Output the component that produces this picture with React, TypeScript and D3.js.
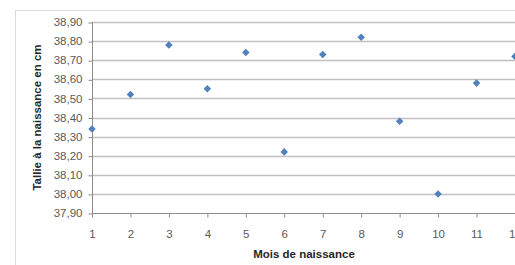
import React, { useEffect, useRef } from "react";
import * as d3 from "d3";

const months = [1, 2, 3, 4, 5, 6, 7, 8, 9, 10, 11, 12];
const heights = [38.34, 38.52, 38.78, 38.55, 38.74, 38.22, 38.73, 38.82, 38.38, 38.0, 38.58, 38.72];
const yTicks = [37.9, 38.0, 38.1, 38.2, 38.3, 38.4, 38.5, 38.6, 38.7, 38.8, 38.9];
const xTitle = "Mois de naissance";
const yTitle = "Tallie à la naissance en cm";

const App = () => {
  const ref = useRef<SVGSVGElement>(null);
  const width = 515;
  const height = 265;

  useEffect(() => {
    const svg = d3.select(ref.current);
    svg.selectAll("*").remove();

    const x = d3.scaleLinear().domain([1, 12]).range([92, 515]);
    const y = d3.scaleLinear().domain([37.9, 38.9]).range([213, 22]);
    const fmt = (v: number) => v.toFixed(2).replace(".", ",");

    // chart border
    svg
      .append("rect")
      .attr("x", 15.5)
      .attr("y", 10.5)
      .attr("width", 600)
      .attr("height", 300)
      .attr("fill", "white")
      .attr("stroke", "#d9d9d9");

    // gridlines
    svg
      .append("g")
      .selectAll("line")
      .data(yTicks.slice(1))
      .join("line")
      .attr("x1", x(1))
      .attr("x2", width)
      .attr("y1", d => Math.round(y(d)) + 0.5)
      .attr("y2", d => Math.round(y(d)) + 0.5)
      .attr("stroke", "#c0c0c0")
      .attr("stroke-width", 1.3);

    // y axis
    const yAxis = d3
      .axisLeft(y)
      .tickValues(yTicks)
      .tickSize(4)
      .tickPadding(6)
      .tickFormat(d => fmt(+d));
    const gy = svg
      .append("g")
      .attr("transform", `translate(${x(1) + 0.5},0)`)
      .call(yAxis);
    gy.select(".domain").attr("stroke", "#8c8c8c").attr("d", `M0,${y(38.9)}V${y(37.9) + 0.5}`);
    gy.selectAll(".tick line").attr("stroke", "#8c8c8c");
    gy.selectAll(".tick line").attr("transform", "translate(0,0.5)");
    gy.selectAll("text")
      .attr("fill", "#595959")
      .attr("font-size", 11.5)
      .attr("font-family", "Liberation Sans, Arial, sans-serif");

    // x axis
    const xAxis = d3.axisBottom(x).tickValues(months).tickSize(4).tickPadding(12).tickFormat(d3.format("d"));
    const gx = svg
      .append("g")
      .attr("transform", `translate(0,${Math.round(y(37.9)) + 0.5})`)
      .call(xAxis);
    gx.select(".domain").attr("stroke", "#8c8c8c").attr("d", `M${x(1)},0H${width}`);
    gx.selectAll(".tick line").attr("stroke", "#8c8c8c");
    gx.selectAll("text")
      .attr("fill", "#595959")
      .attr("font-size", 11.5)
      .attr("font-family", "Liberation Sans, Arial, sans-serif");

    // points
    const diamond = d3.symbol().type(d3.symbolDiamond2).size(36);
    svg
      .append("g")
      .selectAll("path")
      .data(months)
      .join("path")
      .attr("d", diamond)
      .attr("transform", (d, i) => `translate(${x(d)},${y(heights[i])}) rotate(0)`)
      .attr("fill", "#4f81bd");

    // titles
    svg
      .append("text")
      .attr("x", 304)
      .attr("y", 258)
      .attr("text-anchor", "middle")
      .attr("font-weight", "bold")
      .attr("font-size", 11.5)
      .attr("font-family", "Liberation Sans, Arial, sans-serif")
      .attr("fill", "#262626")
      .text(xTitle);

    svg
      .append("text")
      .attr("transform", `translate(41,${(y(38.9) + y(37.9)) / 2}) rotate(-90)`)
      .attr("text-anchor", "middle")
      .attr("font-weight", "bold")
      .attr("font-size", 11.5)
      .attr("font-family", "Liberation Sans, Arial, sans-serif")
      .attr("fill", "#262626")
      .text(yTitle);
  }, []);

  return (
    <svg
      ref={ref}
      width={width}
      height={height}
      style={{ position: "absolute", left: 0, top: 0, background: "white" }}
    />
  );
};

export default App;
